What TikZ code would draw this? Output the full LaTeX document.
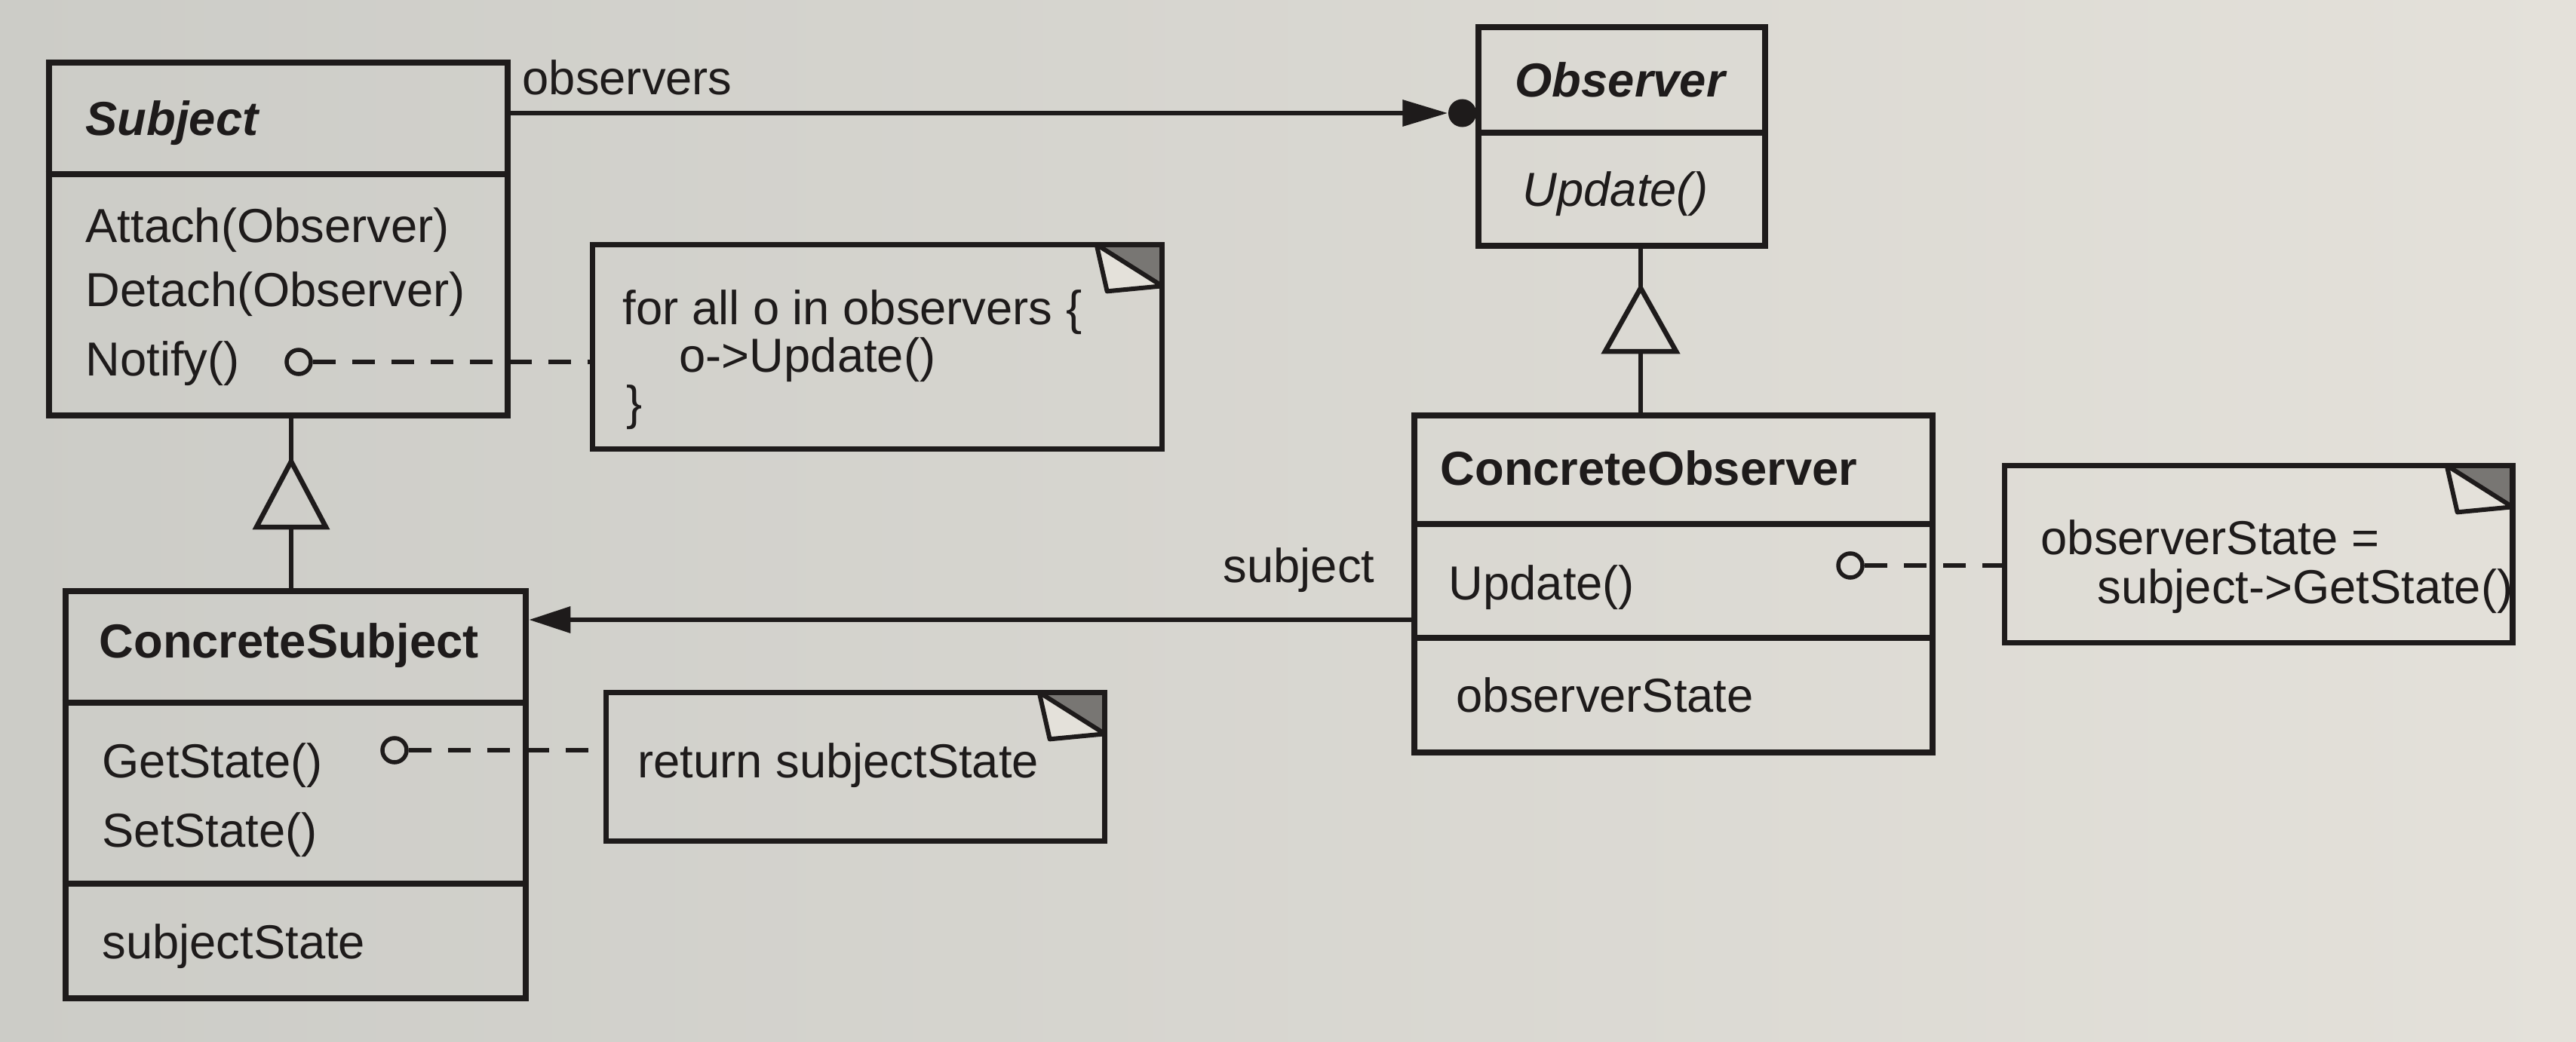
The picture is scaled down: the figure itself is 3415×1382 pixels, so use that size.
\documentclass[tikz,border=0pt]{standalone}
\usepackage{fontspec}
\setmainfont{Liberation Sans}
\usetikzlibrary{arrows.meta,fit,calc}
\definecolor{paperL}{RGB}{204,204,199}
\definecolor{paperR}{RGB}{228,225,218}
\definecolor{ink}{RGB}{30,27,27}
\definecolor{foldgray}{RGB}{120,118,115}
\begin{document}
\begin{tikzpicture}[x=0.01cm,y=-0.01cm,
  frame/.style={draw=ink, line width=0.085cm, inner sep=0pt},
  notebg/.style={inner sep=0pt},
  noteframe/.style={draw=ink, line width=0.075cm},
  txt/.style={anchor=base west, inner sep=0pt, text=ink, font=\fontsize{18}{22}\selectfont},
  cname/.style={txt, font=\fontsize{18}{22}\selectfont\bfseries},
  aname/.style={txt, font=\fontsize{18}{22}\selectfont\bfseries\itshape},
  itxt/.style={txt, font=\fontsize{18}{22}\selectfont\itshape},
  sepline/.style={draw=ink, line width=0.075cm},
  assoc/.style={draw=ink, line width=0.065cm},
  inh/.style={draw=ink, line width=0.065cm, line join=miter},
  dashedlink/.style={draw=ink, line width=0.06cm, dash pattern=on 0.3cm off 0.22cm},
  pin/.style={circle, draw=ink, line width=0.055cm, minimum size=0.32cm, inner sep=0pt},
  flap/.style={draw=ink, line width=0.06cm, line join=round, fill=paperR},
  fold/.style={fill=foldgray}
]
% background
\shade[left color=paperL, right color=paperR] (0,0) rectangle (3415,1382);
\useasboundingbox (0,0) rectangle (3415,1382);

% ---------- class boxes ----------
\node[frame, fit={(65,83) (673,551)}] (subj) {};
\node[frame, fit={(1960,36) (2340,326)}] (obs) {};
\node[frame, fit={(87,784) (697,1324)}] (csubj) {};
\node[frame, fit={(1875,551) (2562,998)}] (cobs) {};

% separators
\coordinate (sA) at (0,231);
\coordinate (sB) at (0,176);
\coordinate (sC1) at (0,932);
\coordinate (sC2) at (0,1172);
\coordinate (sD1) at (0,695);
\coordinate (sD2) at (0,846);
\draw[sepline] (subj.west |- sA) -- (subj.east |- sA);
\draw[sepline] (obs.west |- sB) -- (obs.east |- sB);
\draw[sepline] (csubj.west |- sC1) -- (csubj.east |- sC1);
\draw[sepline] (csubj.west |- sC2) -- (csubj.east |- sC2);
\draw[sepline] (cobs.west |- sD1) -- (cobs.east |- sD1);
\draw[sepline] (cobs.west |- sD2) -- (cobs.east |- sD2);

% ---------- class texts ----------
\node[aname] (tsubj) at (113,180) {Subject};
\node[txt] (tattach) at (113,321) {Attach(Observer)};
\node[txt] (tdetach) at (113,406) {Detach(Observer)};
\node[txt] (tnotify) at (113,498) {Notify()};

\node[aname] (tobs) at (2008,129) {Observer};
\node[itxt] (tupd) at (2018,274) {Update()};

\node[cname] (tcsubj) at (131,872) {ConcreteSubject};
\node[txt] (tget) at (135,1031) {GetState()};
\node[txt] (tset) at (135,1123) {SetState()};
\node[txt] (tstate) at (135,1271) {subjectState};

\node[cname] (tcobs) at (1909,643) {ConcreteObserver};
\node[txt] (tcupd) at (1920,795) {Update()};
\node[txt] (tostate) at (1930,944) {observerState};

% ---------- notes ----------
\node[notebg, fit={(786,325) (1540,595)}] (n1) {};
\node[notebg, fit={(804,919) (1464,1115)}] (n2) {};
\node[notebg, fit={(2658,618) (3330,852)}] (n3) {};
\foreach \n in {n1,n2,n3}{
  \fill[fold] ([xshift=-0.87cm]\n.north east) -- (\n.north east) -- ([yshift=-0.55cm]\n.north east) -- cycle;
  \draw[noteframe] (\n.north west) rectangle (\n.south east);
  \draw[flap] ([xshift=-0.87cm]\n.north east) -- ([xshift=-0.73cm,yshift=-0.62cm]\n.north east) -- ([yshift=-0.55cm]\n.north east) -- cycle;
}
\node[txt] (n1a) at (825,430) {for all o in observers \{};
\node[txt] (n1b) at (900,493) {o->Update()};
\node[txt] (n1c) at (830,556) {\}};
\node[txt] (n2a) at (845,1031) {return subjectState};
\node[txt] (n3a) at (2705,735) {observerState =};
\node[txt] (n3b) at (2780,800) {subject->GetState()};

% ---------- note links ----------
\node[pin] (pin1) at (396,480) {};
\node[pin] (pin2) at (523,995) {};
\node[pin] (pin3) at (2453,750) {};
\draw[dashedlink] (pin1.east) -- (n1.west |- pin1);
\draw[dashedlink] (pin2.east) -- (n2.west |- pin2);
\draw[dashedlink] (pin3.east) -- (n3.west |- pin3);

% ---------- association Subject -> Observer ----------
\coordinate (assocY) at (0,150);
\coordinate (dotR) at (obs.west |- assocY);
\node[circle, fill=ink, minimum size=0.37cm, inner sep=0pt, anchor=east, xshift=0.02cm] (dot1) at (dotR) {};
\draw[assoc, -{Triangle[length=0.6cm,width=0.34cm]}] (subj.east |- assocY) -- (dot1.west);
\node[txt] (lblobs) at (692,126) {observers};

% ---------- association ConcreteObserver -> ConcreteSubject ----------
\coordinate (subY) at (0,822);
\draw[assoc, -{Triangle[length=0.55cm,width=0.34cm]}] (cobs.west |- subY) -- (csubj.east |- subY);
\node[txt, anchor=base east] (lblsub) at (1823,772) {subject};

% ---------- inheritance ----------
\coordinate (apex1) at (386,612);
\coordinate (base1) at (386,699);
\draw[inh] (apex1 |- subj.south) -- (apex1);
\draw[inh] (apex1) -- ([xshift=-0.46cm]base1) -- ([xshift=0.46cm]base1) -- cycle;
\draw[inh] (base1) -- (base1 |- csubj.north);

\coordinate (apex2) at (2175,382);
\coordinate (base2) at (2175,466);
\draw[inh] (apex2 |- obs.south) -- (apex2);
\draw[inh] (apex2) -- ([xshift=-0.47cm]base2) -- ([xshift=0.47cm]base2) -- cycle;
\draw[inh] (base2) -- (base2 |- cobs.north);
\end{tikzpicture}
\end{document}
